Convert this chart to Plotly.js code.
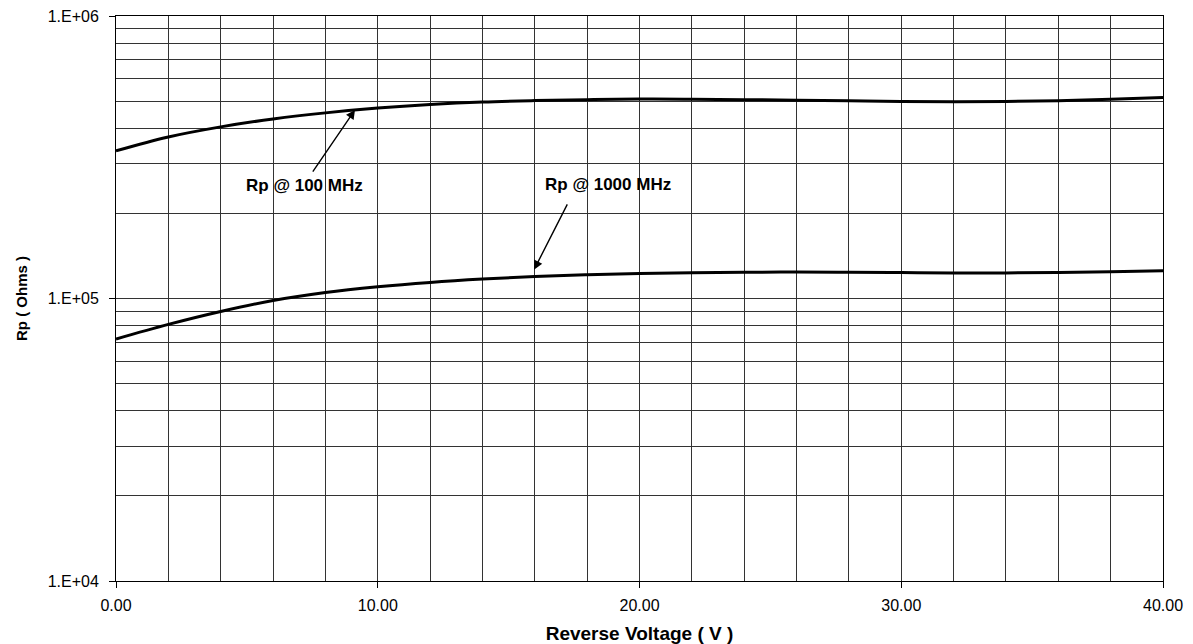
<!DOCTYPE html>
<html>
<head>
<meta charset="utf-8">
<script src="https://cdn.plot.ly/plotly-3.0.1.min.js"></script>
<style>
html,body{margin:0;padding:0;background:#fff;}
#chart{width:1193px;height:644px;}
</style>
</head>
<body>
<div id="chart"></div>
<script>
// Reverse voltage (V)
const voltage = [0, 2, 4, 6, 8, 10, 12, 14, 16, 18, 20, 22, 24, 26, 28, 30, 32, 34, 36, 38, 40];
// Rp @ 100 MHz (Ohms)
const rp100MHz = [333000, 373000, 405000, 432000, 454000, 472000, 486000, 496000, 501700, 505500, 508000,
                  507500, 505800, 503400, 500700, 498200, 497000, 498000, 501500, 507000, 515000];
// Rp @ 1000 MHz (Ohms)
const rp1000MHz = [71900, 81000, 90000, 98400, 105000, 110000, 114000, 117200, 119700, 121300, 122500,
                   123400, 123900, 124000, 123800, 123500, 123200, 123200, 123700, 124400, 125300];
// Axis tick labels
const xTickVals = [0, 10, 20, 30, 40];
const xTickText = ["0.00", "10.00", "20.00", "30.00", "40.00"];
const yTickVals = [1e4, 1e5, 1e6];
const yTickText = ["1.E+04", "1.E+05", "1.E+06"];
const labels = ["Rp @ 100 MHz", "Rp @ 1000 MHz"];

const font = "Liberation Sans, Arial, sans-serif";
const gridCol = "#333";

const traces = [
  {x: voltage, y: rp100MHz, mode: "lines", name: labels[0],
   line: {color: "#000", width: 3, shape: "spline", smoothing: 1}},
  {x: voltage, y: rp1000MHz, mode: "lines", name: labels[1],
   line: {color: "#000", width: 3, shape: "spline", smoothing: 1}}
];

const layout = {
  width: 1193, height: 644,
  margin: {l: 116, r: 30, t: 16, b: 63},
  paper_bgcolor: "#fff", plot_bgcolor: "#fff",
  showlegend: false,
  font: {family: font, color: "#000"},
  xaxis: {
    range: [0, 40],
    tickmode: "array", tickvals: xTickVals, ticktext: xTickText,
    ticks: "outside", ticklen: 6, tickcolor: "#000", tickwidth: 1,
    ticklabelstandoff: 4,
    tickfont: {family: font, size: 16, color: "#000"},
    showgrid: true, gridcolor: gridCol, gridwidth: 1,
    minor: {dtick: 2, tick0: 0, showgrid: true, gridcolor: gridCol, gridwidth: 1, ticks: ""},
    showline: true, linecolor: "#000", linewidth: 1, mirror: true,
    zeroline: false,
    title: {text: "<b>Reverse Voltage ( V )</b>", font: {family: font, size: 19, color: "#000"}, standoff: 14}
  },
  yaxis: {
    type: "log", range: [4, 6],
    tickmode: "array", tickvals: yTickVals, ticktext: yTickText,
    ticks: "outside", ticklen: 6, tickcolor: "#000", tickwidth: 1,
    ticklabelstandoff: 7,
    tickfont: {family: font, size: 16, color: "#000"},
    showgrid: true, gridcolor: gridCol, gridwidth: 1,
    minor: {dtick: "D1", showgrid: true, gridcolor: gridCol, gridwidth: 1, ticks: ""},
    showline: true, linecolor: "#000", linewidth: 1, mirror: true,
    zeroline: false,
    title: {text: "<b>Rp ( Ohms )</b>", font: {family: font, size: 15, color: "#000"}, standoff: 16}
  },
  annotations: [
    {x: 9.13, y: Math.log10(465200), ax: 7.48, ay: Math.log10(277700), axref: "x", ayref: "y",
     xref: "x", yref: "y", text: "", showarrow: true, arrowhead: 2, arrowsize: 1.3, arrowwidth: 1.4,
     arrowcolor: "#000", standoff: 0, startstandoff: 0},
    {x: 7.22, y: Math.log10(250500), xref: "x", yref: "y", text: "<b>" + labels[0] + "</b>",
     showarrow: false, font: {family: font, size: 17, color: "#000"}},
    {x: 15.97, y: Math.log10(126400), ax: 17.27, ay: Math.log10(218000), axref: "x", ayref: "y",
     xref: "x", yref: "y", text: "", showarrow: true, arrowhead: 2, arrowsize: 1.3, arrowwidth: 1.4,
     arrowcolor: "#000", standoff: 0, startstandoff: 0},
    {x: 18.80, y: Math.log10(252500), xref: "x", yref: "y", text: "<b>" + labels[1] + "</b>",
     showarrow: false, font: {family: font, size: 17, color: "#000"}}
  ]
};

Plotly.newPlot("chart", traces, layout, {staticPlot: true, displayModeBar: false});
</script>
</body>
</html>
